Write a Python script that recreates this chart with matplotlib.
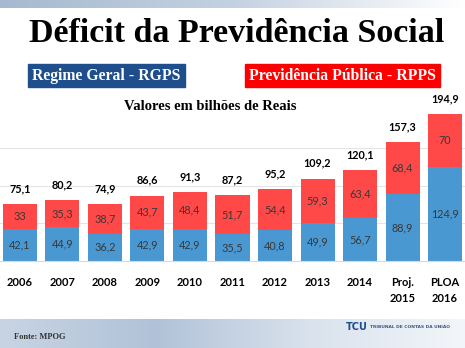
import numpy as np
import matplotlib
matplotlib.use('Agg')
import matplotlib.pyplot as plt
from matplotlib.patches import Rectangle

# Data (bilhões de Reais)
categories = ['2006', '2007', '2008', '2009', '2010', '2011', '2012', '2013', '2014',
              'Proj.\n2015', 'PLOA\n2016']
rgps = [42.1, 44.9, 36.2, 42.9, 42.9, 35.5, 40.8, 49.9, 56.7, 88.9, 124.9]
rpps = [33, 35.3, 38.7, 43.7, 48.4, 51.7, 54.4, 59.3, 63.4, 68.4, 70]
totals = [75.1, 80.2, 74.9, 86.6, 91.3, 87.2, 95.2, 109.2, 120.1, 157.3, 194.9]

W, H = 465, 348
fig = plt.figure(figsize=(W / 100, H / 100), dpi=100)
fig.patch.set_facecolor('white')

# background decorations (pixel coordinates, y from top)
bg = fig.add_axes([0, 0, 1, 1])
bg.axis('off')
grad = np.linspace(0, 1, 256).reshape(1, -1)
cmap_top = matplotlib.colors.LinearSegmentedColormap.from_list('t', ['#a7b9d0', '#c4d1e1', '#ffffff'])
bg.imshow(grad, extent=[0, W, 8, 0], aspect='auto', cmap=cmap_top)
cmap_bot = matplotlib.colors.LinearSegmentedColormap.from_list('b', ['#c8d4e3', '#b1c2d8', '#d9e2ed', '#f3f6fa'])
bg.imshow(grad, extent=[0, W, H, 319], aspect='auto', cmap=cmap_bot)
bg.set_xlim(0, W)
bg.set_ylim(H, 0)

bg.text(W / 2 + 4, 34, 'Déficit da Previdência Social', family='Liberation Serif',
        fontweight='bold', fontsize=24.5, ha='center', va='center')
bg.add_patch(Rectangle((28, 64), 157, 23, color='#1f4e8c'))
bg.text(106.5, 76, 'Regime Geral - RGPS', family='Liberation Serif', fontweight='bold',
        fontsize=11.3, color='white', ha='center', va='center')
bg.add_patch(Rectangle((245, 64), 195, 23, color='#ff0000'))
bg.text(342.5, 76, 'Previdência Pública - RPPS', family='Liberation Serif', fontweight='bold',
        fontsize=11.3, color='white', ha='center', va='center')
bg.text(210, 106, 'Valores em bilhões de Reais', family='Liberation Serif', fontweight='bold',
        fontsize=10.5, ha='center', va='center')
bg.text(14, 337, 'Fonte: MPOG', family='Liberation Serif', fontweight='bold',
        fontsize=6, ha='left', va='center', color='#333333')
bg.text(346, 327, 'TCU', family='DejaVu Sans', fontweight='bold', fontsize=7,
        ha='left', va='center', color='#1f4e8c')
bg.text(370, 327, 'TRIBUNAL DE CONTAS DA UNIÃO', family='DejaVu Sans', fontweight='bold',
        fontsize=3.2, ha='left', va='center', color='#3a5a85')

# chart
ax = fig.add_axes([0, (H - 261) / H, 1, 151 / H])
ax.set_facecolor('none')
x = np.arange(len(categories))
blue = '#4a98d2'
red = '#ff4848'
ax.bar(x, rgps, width=0.8, color=blue, zorder=2)
ax.bar(x, rpps, width=0.8, bottom=rgps, color=red, zorder=2)

for i in range(len(categories)):
    ax.text(x[i], rgps[i] / 2, f'{rgps[i]:g}'.replace('.', ','), ha='center', va='center',
            family='Lato', fontsize=7.8, color='#383838', zorder=3)
    ax.text(x[i], rgps[i] + rpps[i] / 2, f'{rpps[i]:g}'.replace('.', ','), ha='center',
            va='center', family='Lato', fontsize=7.8, color='#383838', zorder=3)
    ax.annotate(f'{totals[i]:g}'.replace('.', ','), (x[i], totals[i]), xytext=(0, 11),
                textcoords='offset points', ha='center', va='center', family='Lato',
                fontweight='bold', fontsize=7.8, color='black', annotation_clip=False)

ax.set_xlim(-0.47, 10.47)
ax.set_ylim(0, 200)
ax.set_yticks([50, 100, 150])
ax.grid(axis='y', color='#e4e4e4', linewidth=0.8, zorder=0)
ax.tick_params(left=False, labelleft=False, bottom=False, pad=8)
ax.set_xticks(x)
ax.set_xticklabels(categories, family='Lato', fontweight='bold', fontsize=8, va='top',
                   linespacing=1.6)
for s in ['top', 'left', 'right']:
    ax.spines[s].set_visible(False)
ax.spines['bottom'].set_color('#d9d9d9')

fig.savefig('out.png', dpi=100)
